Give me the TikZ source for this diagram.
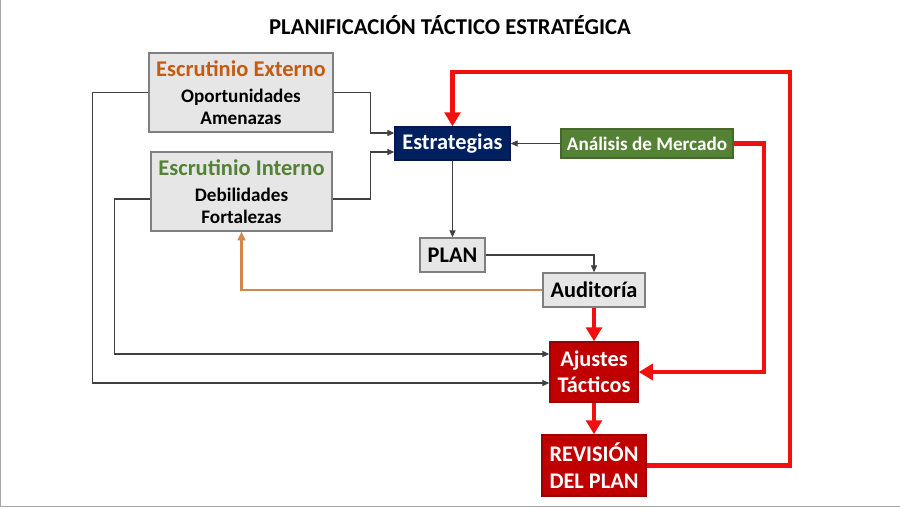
\documentclass[tikz,border=0pt]{standalone}
\usepackage{fontspec}
\setmainfont{Carlito}
\usetikzlibrary{arrows.meta,calc}
\definecolor{BoxGray}{HTML}{E7E6E6}
\definecolor{EdgeGray}{HTML}{7F7F7F}
\definecolor{LineGray}{HTML}{404040}
\definecolor{DNavy}{HTML}{002060}
\definecolor{MGreen}{HTML}{548235}
\definecolor{TGreen}{HTML}{538135}
\definecolor{TOrange}{HTML}{C55A11}
\definecolor{LOrange}{HTML}{D0874B}
\definecolor{BRed}{HTML}{C00000}
\definecolor{LRed}{HTML}{F01010}

\begin{document}
\begin{tikzpicture}[x=0.02cm, y=-0.02cm, font=\bfseries,
    graybox/.style={draw=EdgeGray, fill=BoxGray, line width=0.8pt, inner sep=0pt, align=center},
    darkbox/.style={draw=#1!80!black, fill=#1, text=white, line width=0.8pt, inner sep=0pt, align=center},
    big/.style={font=\bfseries\fontsize{12.7}{15}\selectfont},
    small/.style={font=\bfseries\fontsize{10.9}{12.5}\selectfont},
    blk/.style={draw=LineGray, line width=0.6pt, -{Triangle[length=4pt,width=3.5pt]}},
    org/.style={draw=LOrange, line width=1.3pt, -{Triangle[length=5pt,width=4.5pt]}},
    redarr/.style={draw=LRed, line width=2.4pt, -{Triangle[length=8pt,width=9pt]}}]
        \useasboundingbox (0,0) rectangle (900,508);
        \draw[EdgeGray!70, line width=1pt] (0.5,0) -- (0.5,506.5) -- (900,506.5);

        \node[font=\bfseries\fontsize{12.9}{14}\selectfont] (title) at (450,25) {PLANIFICACIÓN TÁCTICO ESTRATÉGICA};

        \node[graybox, small, minimum width=3.68cm, minimum height=1.58cm] (ext) at (241,92.5)
            {{\color{TOrange}\fontsize{12.8}{14}\selectfont Escrutinio Externo}\\[2.5pt] Oportunidades\\ Amenazas};
        \node[graybox, small, minimum width=3.62cm, minimum height=1.58cm] (int) at (241.5,191.5)
            {{\color{TGreen}\fontsize{12.8}{14}\selectfont Escrutinio Interno}\\[2.5pt] Debilidades\\ Fortalezas};
        \node[darkbox=DNavy, big, minimum width=2.3cm, minimum height=0.66cm] (estr) at (452.5,143.5) {Estrategias};
        \node[darkbox=MGreen, small, minimum width=3.44cm, minimum height=0.58cm] (merc) at (647,143.5) {Análisis de Mercado};
        \node[graybox, big, minimum width=1.3cm, minimum height=0.68cm] (plan) at (452.5,255) {PLAN};
        \node[graybox, big, minimum width=2.04cm, minimum height=0.68cm] (aud) at (594,290) {Auditoría};
        \node[darkbox=BRed, big, minimum width=1.76cm, minimum height=1.2cm] (aj) at (594,372) {Ajustes\\ Tácticos};
        \node[darkbox=BRed, big, minimum width=2.08cm, minimum height=1.22cm] (rev) at (594,465.5) {REVISIÓN\\ DEL PLAN};

        % entradas a estrategias
        \draw[blk] (ext.east) -- ++(37,0) |- ($(estr.west)+(0,-10.5)$);
        \draw[blk] ($(int.east)+(0,7.5)$) -- ++(38,0) |- ($(estr.west)+(0,8.5)$);
        \draw[blk] (merc.west) -- (estr.east);
        \draw[blk] (estr.south) -- (plan.north);
        \draw[blk] (plan.east) -| (aud.north);

        % escrutinio hacia ajustes
        \draw[blk] (ext.west) -- ++(-56,0) |- ($(aj.west)+(0,11)$);
        \draw[blk] ($(int.west)+(0,7.5)$) -- ++(-36,0) |- ($(aj.west)+(0,-18)$);

        \draw[org] (aud.west) -| (int.south);

        \coordinate (lazo) at (790,72);
        \draw[redarr] (aud.south) -- (aj.north);
        \draw[redarr] (aj.south) -- (rev.north);
        \draw[redarr] (merc.east) -- ++(30,0) |- (aj.east);
        \draw[redarr] (rev.east) -| (lazo) -| (estr.north);
\end{tikzpicture}
\end{document}
